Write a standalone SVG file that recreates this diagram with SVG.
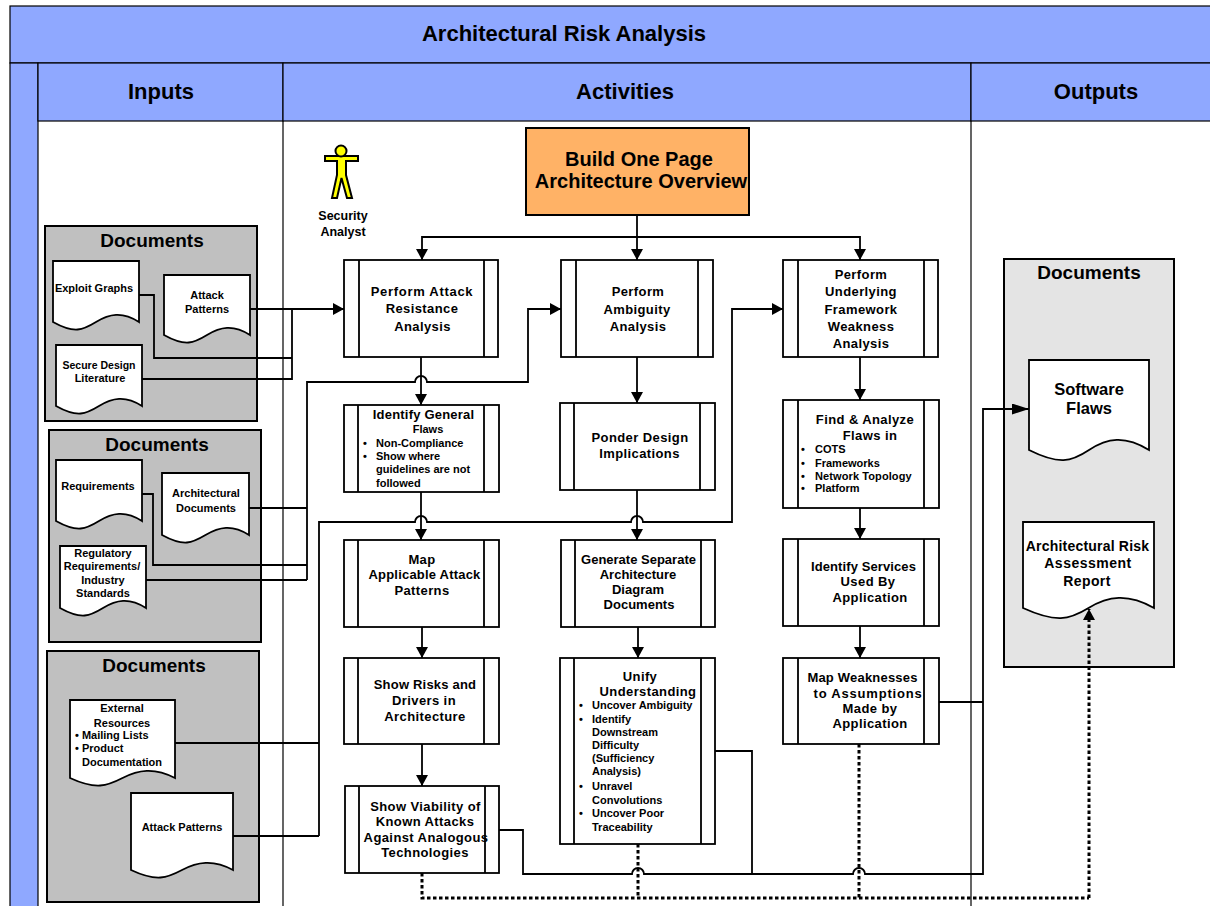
<svg xmlns="http://www.w3.org/2000/svg" width="1210" height="906" viewBox="0 0 1210 906">
<style>
text{font-family:"Liberation Sans",Arial,sans-serif;font-weight:700;fill:#000;text-anchor:middle}
.band{fill:#8fa8ff;stroke:#000;stroke-width:1.2}
.col{fill:none;stroke:#000;stroke-width:1.2}
.t22{font-size:22px}.t19{font-size:19px}.t20{font-size:20px}.t11{font-size:11px}.t125{font-size:12.5px}
.p{font-size:13px;letter-spacing:.4px}
.p0{font-size:13px;letter-spacing:0}
.p2{font-size:13px;letter-spacing:.2px}
.l{text-anchor:start}
.grp{fill:#c0c0c0;stroke:#000;stroke-width:2}
.grpl{fill:#e4e4e4;stroke:#000;stroke-width:2}
.doc{fill:#fff;stroke:#000;stroke-width:1.8}
.box{fill:#fff;stroke:#000;stroke-width:1.8}
.c{fill:none;stroke:#000;stroke-width:1.8}
.d{fill:none;stroke:#000;stroke-width:3;stroke-dasharray:3.5 2.5}
</style>
<defs>
<marker id="ah" markerUnits="userSpaceOnUse" viewBox="0 0 11 12" refX="11" refY="6" markerWidth="11" markerHeight="12" orient="auto"><path d="M0,0L11,6L0,12Z" fill="#000"/></marker>
<marker id="al" markerUnits="userSpaceOnUse" viewBox="0 0 17 11" refX="17" refY="5.5" markerWidth="17" markerHeight="11" orient="auto"><path d="M0,0L17,5.5L0,11Z" fill="#000"/></marker>
</defs>
<rect width="1210" height="906" fill="#fff"/>
<g id="swimlanes">
<rect class="band" x="10" y="6" width="1202" height="57"/>
<rect class="band" x="10" y="63" width="28" height="845"/>
<rect class="band" x="38" y="63" width="245" height="58"/>
<rect class="band" x="283" y="63" width="688" height="58"/>
<rect class="band" x="971" y="63" width="241" height="58"/>
<path class="col" d="M283,121V906M971,121V906"/>
<text class="t22" x="564" y="41">Architectural Risk Analysis</text>
<text class="t22" x="161" y="99">Inputs</text>
<text class="t22" x="625" y="99">Activities</text>
<text class="t22" x="1096" y="99">Outputs</text>
</g>
<g id="doc-group-1"><rect class="grp" x="45" y="226" width="212" height="195"/><text class="t19" x="152" y="247">Documents</text></g>
<g id="doc-group-2"><rect class="grp" x="49" y="430" width="212" height="212"/><text class="t19" x="157" y="451">Documents</text></g>
<g id="doc-group-3"><rect class="grp" x="47" y="651" width="212" height="251"/><text class="t19" x="154" y="672">Documents</text></g>
<g id="doc-group-out"><rect class="grpl" x="1004" y="259" width="170" height="408"/><text class="t19" x="1089" y="279">Documents</text></g>
<g id="connectors">
<path class="c" marker-end="url(#ah)" d="M637,215V260"/>
<path class="c" marker-end="url(#ah)" d="M637,237H422V260"/>
<path class="c" marker-end="url(#ah)" d="M637,237H860V260"/>
<path class="c" marker-end="url(#ah)" d="M250,309H344"/>
<path class="c" d="M139,295H154V358H292M142,379H292V309"/>
<path class="c" d="M249,508H307M142,494H153V565H307M146,580H307"/>
<path class="c" marker-end="url(#ah)" d="M307,580V382H415a6,6 0 0 1 12,0H528V309H561"/>
<path class="c" d="M175,743H319M233,836H319"/>
<path class="c" marker-end="url(#ah)" d="M319,836V522H415a6,6 0 0 1 12,0H631a6,6 0 0 1 12,0H732V309H783"/>
<path class="c" marker-end="url(#ah)" d="M421,357V405"/>
<path class="c" marker-end="url(#ah)" d="M637,357V403"/>
<path class="c" marker-end="url(#ah)" d="M421,492V540"/>
<path class="c" marker-end="url(#ah)" d="M637,490V540"/>
<path class="c" marker-end="url(#ah)" d="M422,627V658"/>
<path class="c" marker-end="url(#ah)" d="M422,744V786"/>
<path class="c" marker-end="url(#ah)" d="M638,627V658"/>
<path class="c" marker-end="url(#ah)" d="M860,357V400"/>
<path class="c" marker-end="url(#ah)" d="M860,508V539"/>
<path class="c" marker-end="url(#ah)" d="M860,626V658"/>
<path class="c" marker-end="url(#al)" d="M499,830H523V874H632a6,6 0 0 1 12,0H853a6,6 0 0 1 12,0H983V409H1029"/>
<path class="c" d="M715,751H752V874M939,702H983"/>
<path class="d" d="M422,873V898H1089"/>
<path class="d" d="M638,844V898M859,744V898"/>
<path class="d" marker-end="url(#ah)" d="M1089,898V609"/>
</g>
<g id="security-analyst">
<path d="M325,156H358V161H346V175L352,198H347L341.5,178L337,198H332L337,175V161H325Z" fill="#ffff00" stroke="#000" stroke-width="2"/>
<circle cx="341" cy="151" r="5.5" fill="#ffff00" stroke="#000" stroke-width="2"/>
<text class="t125" x="343" y="220">Security</text><text class="t125" x="343" y="236">Analyst</text>
</g>
<g id="overview"><rect x="526" y="128" width="223" height="87" fill="#ffb266" stroke="#000" stroke-width="2"/><text class="t20" x="639" y="166">Build One Page</text><text class="t20" x="641" y="188">Architecture Overview</text></g>
<g id="doc-exploit"><path class="doc" d="M53,261H139V322C122,311 109,314 96,322S74.5,334 53,322Z"/><text class="t11" x="94" y="292">Exploit Graphs</text></g>
<g id="doc-attack1"><path class="doc" d="M164,275H250V335C233,324 220,327 207,335S185.5,347 164,335Z"/><text class="t11" x="207" y="299">Attack</text><text class="t11" x="207" y="313">Patterns</text></g>
<g id="doc-secure"><path class="doc" d="M56,345H142V406C125,395 112,398 99,406S77.5,418 56,406Z"/><text x="99" y="369" style="font-size:10.5px">Secure Design</text><text class="t11" x="100" y="382">Literature</text></g>
<g id="doc-req"><path class="doc" d="M56,460H142V521C125,510 112,513 99,521S77.5,533 56,521Z"/><text class="t11" x="98" y="490">Requirements</text></g>
<g id="doc-arch"><path class="doc" d="M162,473H249V535C232,524 219,527 205.5,535S184,547 162,535Z"/><text class="t11" x="206" y="497">Architectural</text><text class="t11" x="206" y="512">Documents</text></g>
<g id="doc-reg"><path class="doc" d="M60,546H146V608C129,597 116,600 103,608S81.5,620 60,608Z"/><text class="t11" x="103" y="557">Regulatory</text><text class="t11" x="102" y="570">Requirements/</text><text class="t11" x="103" y="584">Industry</text><text class="t11" x="103" y="597">Standards</text></g>
<g id="doc-external"><path class="doc" d="M70,700H175V778C154,767 138,770 122.5,778S96,790 70,778Z"/><text class="t11" x="122" y="712">External</text><text class="t11" x="122" y="727">Resources</text><text class="t11 l" x="75" y="739">• Mailing Lists</text><text class="t11 l" x="75" y="752">• Product</text><text class="t11 l" x="82" y="766">Documentation</text></g>
<g id="doc-attack2"><path class="doc" d="M131,793H233V870C213,859 197,862 182,870S156.5,882 131,870Z"/><text class="t11" x="182" y="831">Attack Patterns</text></g>
<g id="doc-flaws"><path class="doc" d="M1029,360H1149V450C1125,435 1107,438 1089,450S1059,465 1029,450Z"/><text x="1089" y="395" style="font-size:16.5px">Software</text><text x="1089" y="414" style="font-size:16.5px">Flaws</text></g>
<g id="doc-report"><path class="doc" d="M1023,522H1154V608C1128,593 1108,596 1088.5,608S1056,623 1023,608Z"/><text x="1087.5" y="551" style="font-size:14px;letter-spacing:.2px">Architectural Risk</text><text x="1088" y="568" style="font-size:14px;letter-spacing:.5px">Assessment</text><text class="p" x="1087" y="586" style="font-size:14px">Report</text></g>
<g id="p-attack"><rect class="box" x="344" y="260" width="154" height="97"/><path class="c" d="M359,260V357M484,260V357"/><text class="p" x="422" y="296" style="letter-spacing:.7px">Perform Attack</text><text class="p" x="422" y="313">Resistance</text><text class="p" x="422.500" y="331">Analysis</text></g>
<g id="p-ambiguity"><rect class="box" x="561" y="260" width="152" height="97"/><path class="c" d="M576,260V357M698,260V357"/><text class="p" x="638" y="296">Perform</text><text class="p" x="637" y="314">Ambiguity</text><text class="p" x="638" y="331">Analysis</text></g>
<g id="p-framework"><rect class="box" x="783" y="260" width="155" height="97"/><path class="c" d="M798,260V357M924,260V357"/><text class="p" x="861" y="279">Perform</text><text class="p" x="861" y="296">Underlying</text><text class="p" x="861" y="314">Framework</text><text class="p" x="861" y="331">Weakness</text><text class="p" x="861" y="348">Analysis</text></g>
<g id="p-general"><rect class="box" x="344" y="405" width="155" height="87"/><path class="c" d="M358,405V492M484,405V492"/><text class="p2" x="423.500" y="419">Identify General</text><text class="t11" x="428" y="433">Flaws</text><text class="t11" x="365" y="447">•</text><text class="t11 l" x="376" y="447">Non-Compliance</text><text class="t11" x="365" y="460">•</text><text class="t11 l" x="376" y="460">Show where</text><text class="t11 l" x="376" y="473">guidelines are not</text><text class="t11 l" x="376" y="487">followed</text></g>
<g id="p-ponder"><rect class="box" x="560" y="403" width="155" height="87"/><path class="c" d="M574,403V490M700,403V490"/><text class="p" x="640" y="442">Ponder Design</text><text class="p" x="639.500" y="458">Implications</text></g>
<g id="p-map"><rect class="box" x="344" y="540" width="155" height="87"/><path class="c" d="M358,540V627M484,540V627"/><text class="p" x="422" y="564">Map</text><text class="p2" x="424.500" y="579">Applicable Attack</text><text class="p" x="422" y="595">Patterns</text></g>
<g id="p-risks"><rect class="box" x="344" y="658" width="155" height="86"/><path class="c" d="M358,658V744M484,658V744"/><text class="p2" x="425" y="689">Show Risks and</text><text class="p" x="424" y="705">Drivers in</text><text class="p" x="425" y="721">Architecture</text></g>
<g id="p-viability"><rect class="box" x="345" y="786" width="154" height="87"/><path class="c" d="M359,786V873M485,786V873"/><text class="p" x="425.500" y="811">Show Viability of</text><text class="p" x="425" y="826">Known Attacks</text><text class="p" x="426" y="842">Against Analogous</text><text class="p" x="425" y="857">Technologies</text></g>
<g id="p-generate"><rect class="box" x="561" y="540" width="154" height="87"/><path class="c" d="M575,540V627M701,540V627"/><text class="p0" x="638.500" y="564">Generate Separate</text><text class="p0" x="638" y="579">Architecture</text><text class="p0" x="638" y="594">Diagram</text><text class="p0" x="639" y="609">Documents</text></g>
<g id="p-unify"><rect class="box" x="560" y="658" width="155" height="186"/><path class="c" d="M574,658V844M701,658V844"/><text class="p" x="640" y="681">Unify</text><text class="p" x="648" y="696">Understanding</text>
<text class="t11" x="581" y="709">•</text><text class="t11 l" x="592" y="709">Uncover Ambiguity</text><text class="t11" x="581" y="723">•</text><text class="t11 l" x="592" y="723">Identify</text><text class="t11 l" x="592" y="736">Downstream</text><text class="t11 l" x="592" y="749">Difficulty</text><text class="t11 l" x="592" y="762">(Sufficiency</text><text class="t11 l" x="592" y="775">Analysis)</text><text class="t11" x="581" y="790">•</text><text class="t11 l" x="592" y="790">Unravel</text><text class="t11 l" x="592" y="804">Convolutions</text><text class="t11" x="581" y="817">•</text><text class="t11 l" x="592" y="817">Uncover Poor</text><text class="t11 l" x="592" y="831">Traceability</text></g>
<g id="p-find"><rect class="box" x="783" y="400" width="156" height="108"/><path class="c" d="M798,400V508M924,400V508"/><text class="p" x="865" y="424">Find &amp; Analyze</text><text class="p" x="870" y="440">Flaws in</text><text class="t11" x="803" y="453">•</text><text class="t11 l" x="815" y="453">COTS</text><text class="t11" x="803" y="467">•</text><text class="t11 l" x="815" y="467">Frameworks</text><text class="t11" x="803" y="480">•</text><text class="t11 l" x="815" y="480" style="letter-spacing:.1px">Network Topology</text><text class="t11" x="803" y="492">•</text><text class="t11 l" x="815" y="492">Platform</text></g>
<g id="p-services"><rect class="box" x="783" y="539" width="156" height="87"/><path class="c" d="M798,539V626M924,539V626"/><text class="p0" x="863.500" y="571" style="letter-spacing:.1px">Identify Services</text><text class="p" x="868" y="586">Used By</text><text class="p" x="870" y="602">Application</text></g>
<g id="p-weak"><rect class="box" x="783" y="658" width="156" height="86"/><path class="c" d="M798,658V744M924,658V744"/><text class="p2" x="862.500" y="682">Map Weaknesses</text><text class="p" x="868" y="698" style="letter-spacing:.8px">to Assumptions</text><text class="p" x="870" y="713">Made by</text><text class="p" x="870" y="728">Application</text></g>
</svg>
